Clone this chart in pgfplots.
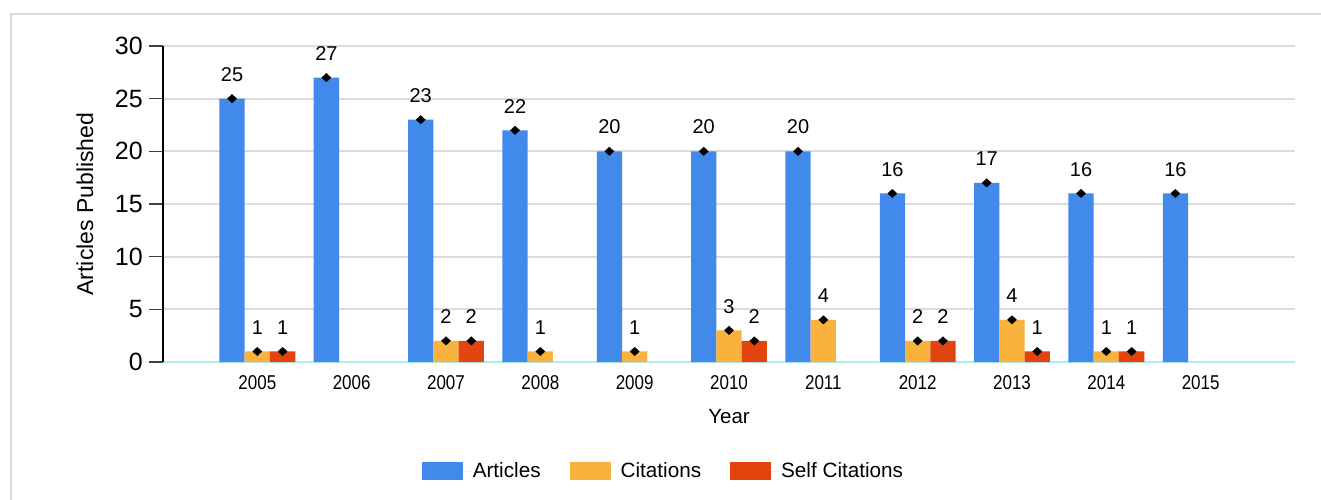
\documentclass[border=0pt]{standalone}
\usepackage{pgfplots}
\pgfplotsset{compat=1.18}
\usepackage{fontspec}
\setmainfont{Liberation Sans}
\definecolor{cArt}{HTML}{418AEC}
\definecolor{cCit}{HTML}{FAB23F}
\definecolor{cSelf}{HTML}{E2440E}
\definecolor{gridc}{HTML}{DCDCDC}
\definecolor{framec}{HTML}{D9D9D9}
\definecolor{basec}{HTML}{B2EBF2}
\newcommand\sx[1]{\scalebox{0.85}[1]{#1}}
\begin{document}
\begin{tikzpicture}
\useasboundingbox (0,0) rectangle (1321bp,500bp);
\draw[framec, line width=2.4bp] (11.2bp,0) -- (11.2bp,486bp) -- (1321bp,486bp);
\begin{axis}[
  at={(163bp,138bp)}, anchor=south west,
  scale only axis, width=1132bp, height=316bp,
  xmin=-1, xmax=11, ymin=0, ymax=30,
  ybar=0pt, bar width=0.268,
  clip=false,
  axis x line*=bottom, axis y line*=left,
  x axis line style={basec, line width=2.2bp},
  y axis line style={black, line width=1.5bp},
  xtick={0,...,10},
  xticklabels={\sx{2005},\sx{2006},\sx{2007},\sx{2008},\sx{2009},\sx{2010},\sx{2011},\sx{2012},\sx{2013},\sx{2014},\sx{2015}},
  xtick style={draw=none},
  ytick={0,5,...,30},
  ytick style={draw=darkgray, line width=1.2bp},
  tick align=outside, major tick length=14bp,
  ymajorgrids, grid style={gridc, line width=2bp},
  /pgf/number format/assume math mode=true,
  yticklabel style={font=\fontsize{25bp}{29bp}\selectfont, inner sep=0pt, anchor=east, xshift=-6bp},
  xticklabel style={font=\fontsize{20bp}{24bp}\selectfont, inner sep=0pt, anchor=north, yshift=0.5bp},
  ylabel={Articles Published},
  ylabel style={at={(axis description cs:0,0.5)}, anchor=center, yshift=78bp, font=\fontsize{23bp}{27bp}\selectfont},
  xlabel={Year},
  xlabel style={at={(axis description cs:0.5,0)}, anchor=center, yshift=-54.7bp, font=\fontsize{20.5bp}{24bp}\selectfont},
  nodes near coords,
  every node near coord/.append style={font=\fontsize{20bp}{24bp}\selectfont, anchor=south, inner sep=0pt, yshift=17bp, black},
  legend style={at={(0.4421,-0.345)}, anchor=center, draw=none, fill=none,
    legend columns=3, font=\fontsize{20.7bp}{24bp}\selectfont,
    /tikz/every even column/.append style={column sep=27bp}},
  legend cell align=left,
]
\addplot[draw=none, fill=cArt, mark=diamond*, mark size=4.2bp, mark options={draw=black, fill=black, xshift=-25.3bp, xscale=1.45},
  every node near coord/.append style={xshift=25.3bp},
  legend image code/.code={\fill[cArt] (0bp,-9bp) rectangle (41bp,9bp); \path (0bp,0bp) -- (49bp,0bp);}]
  coordinates {(0,25)(1,27)(2,23)(3,22)(4,20)(5,20)(6,20)(7,16)(8,17)(9,16)(10,16)};
\addplot[draw=none, fill=cCit, mark=diamond*, mark size=4.2bp, mark options={draw=black, fill=black, xscale=1.45},
  legend image code/.code={\fill[cCit] (0bp,-9bp) rectangle (41bp,9bp); \path (0bp,0bp) -- (49bp,0bp);}]
  coordinates {(0,1)(2,2)(3,1)(4,1)(5,3)(6,4)(7,2)(8,4)(9,1)};
\addplot[draw=none, fill=cSelf, mark=diamond*, mark size=4.2bp, mark options={draw=black, fill=black, xshift=25.3bp, xscale=1.45},
  every node near coord/.append style={xshift=-25.3bp},
  legend image code/.code={\fill[cSelf] (0bp,-9bp) rectangle (41bp,9bp); \path (0bp,0bp) -- (49bp,0bp);}]
  coordinates {(0,1)(2,2)(5,2)(7,2)(8,1)(9,1)};
\legend{Articles, Citations, Self Citations}
\end{axis}
\end{tikzpicture}
\end{document}
